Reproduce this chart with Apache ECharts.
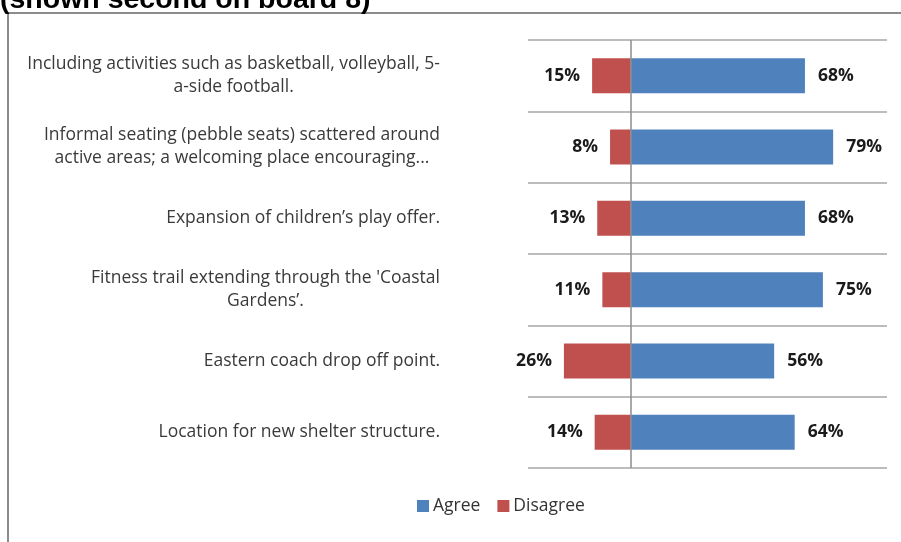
<!DOCTYPE html>
<html>
<head>
<meta charset="utf-8">
<script src="https://cdn.jsdelivr.net/npm/echarts@6/dist/echarts.min.js"></script>
<style>html,body{margin:0;padding:0;background:#fff;}#c{width:901px;height:542px;}</style>
</head>
<body>
<div id="c"></div>
<script>
const categories = [
  "Including activities such as basketball, volleyball, 5-\na-side football.",
  "Informal seating (pebble seats) scattered around\nactive areas; a welcoming place encouraging...",
  "Expansion of children\u2019s play offer.",
  "Fitness trail extending through the 'Coastal\nGardens\u2019.",
  "Eastern coach drop off point.",
  "Location for new shelter structure."
];
const agree = [68, 79, 68, 75, 56, 64];
const disagree = [15, 8, 13, 11, 26, 14];
const seriesNames = ["Agree", "Disagree"];
const titleText = "(shown second on board 8)";

const chart = echarts.init(document.getElementById('c'), null, {renderer: 'canvas'});
const FONT = '"Open Sans"';
chart.setOption({
  animation: false,
  backgroundColor: '#fff',
  graphic: [
    {type: 'rect', x: 8, y: 13, shape: {x: 0, y: 0, width: 1000, height: 1000}, style: {fill: 'none', stroke: '#8c8c8c', lineWidth: 2}, silent: true, z: -1},
    {type: 'text', x: 0, y: -14, style: {text: titleText, font: 'bold 28.5px "Liberation Sans", Arial', fill: '#000'}}
  ],
  grid: {left: 528, right: 14, top: 40, bottom: 74},
  legend: {
    data: seriesNames,
    left: 412, top: 492,
    itemWidth: 12, itemHeight: 12, itemGap: 17,
    icon: 'rect',
    textStyle: {fontFamily: FONT, fontSize: 17.5, color: '#333', padding: [0, 0, 0, -1]}
  },
  xAxis: {
    type: 'value', min: -40, max: 100, interval: 20, show: false,
    splitLine: {show: false}
  },
  yAxis: {
    type: 'category', data: categories, inverse: true,
    axisLine: {show: false}, axisTick: {show: false},
    splitLine: {show: true, lineStyle: {color: '#a6a6a6', width: 1.5}},
    axisLabel: {
      margin: 88, align: 'right',
      formatter: v => v.split('\n').map(s => '{c|' + s + '}').join('\n'),
      rich: {c: {align: 'center', fontFamily: FONT, fontSize: 17.5, color: '#3a3a3a', lineHeight: 23}}
    }
  },
  series: [
    {
      name: seriesNames[0], type: 'bar', data: agree, barWidth: 35,
      itemStyle: {color: '#4F81BD'},
      label: {show: true, position: 'right', distance: 13, formatter: p => p.value + '%',
        fontFamily: FONT, fontWeight: 'bold', fontSize: 17.5, color: '#1a1a1a'},
      markLine: {
        silent: true, symbol: 'none', label: {show: false},
        lineStyle: {color: '#8c8c8c', type: 'solid', width: 1.5},
        data: [{xAxis: 0}]
      }
    },
    {
      name: seriesNames[1], type: 'bar', data: disagree.map(v => -v), barWidth: 35, barGap: '-100%',
      itemStyle: {color: '#C0504D'},
      label: {show: true, position: 'left', distance: 12, formatter: p => Math.abs(p.value) + '%',
        fontFamily: FONT, fontWeight: 'bold', fontSize: 17.5, color: '#1a1a1a'}
    }
  ]
});
</script>
</body>
</html>
